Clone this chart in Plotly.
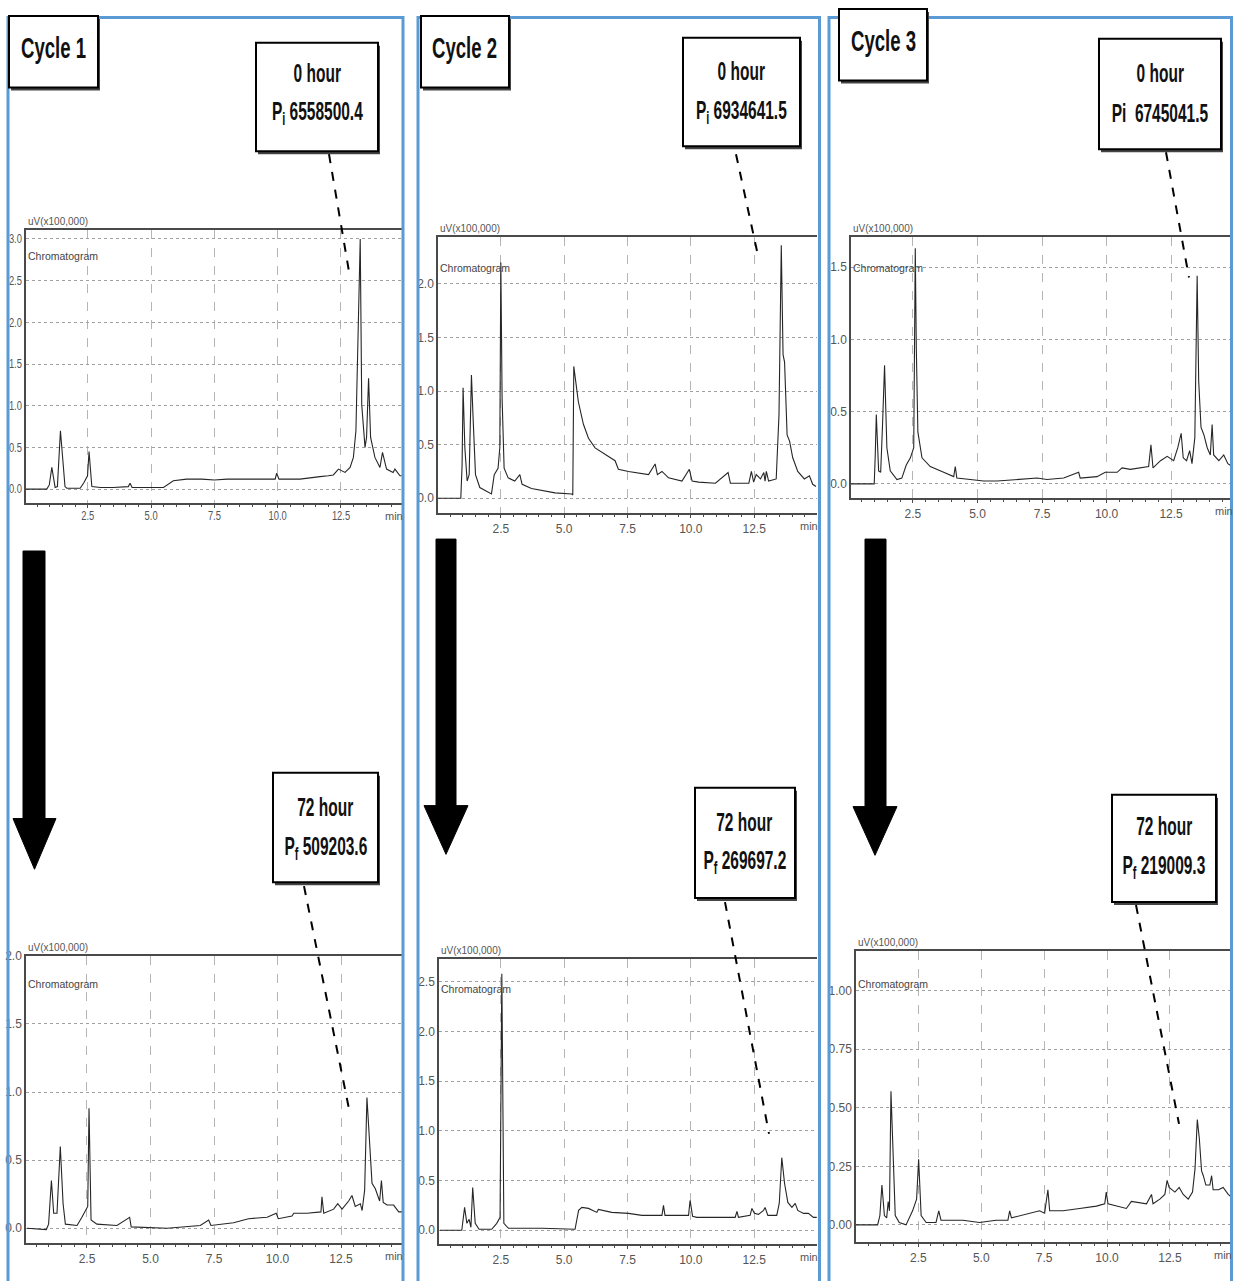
import plotly.graph_objects as go

W, H = 1239, 1281

# ---------------- data (time in min, signal in uV x100,000) ----------------
c1_0h_t = [0.06, 0.5, 0.88, 0.98, 1.08, 1.21, 1.3, 1.42, 1.6, 1.67, 2.2, 2.35, 2.49, 2.55, 2.66, 3.0, 3.5, 4.1, 4.17, 4.25,
           5.0, 5.49, 5.88, 6.4, 7.0, 7.5, 8.0, 8.9, 9.9, 9.96, 10.05, 10.88, 11.3, 11.67, 12.0, 12.2, 12.4, 12.66, 12.86,
           12.99, 13.09, 13.18, 13.26, 13.32, 13.45, 13.51, 13.59, 13.67, 13.84, 14.04, 14.14, 14.3, 14.56, 14.63, 14.83, 14.9]
c1_0h_v = [0.0, 0.0, 0.0, 0.05, 0.26, 0.02, 0.03, 0.70, 0.03, 0.01, 0.01, 0.08, 0.16, 0.45, 0.03, 0.02, 0.02, 0.03, 0.07, 0.02,
           0.02, 0.02, 0.10, 0.12, 0.12, 0.11, 0.12, 0.12, 0.12, 0.19, 0.12, 0.12, 0.14, 0.15, 0.16, 0.17, 0.24, 0.20, 0.26,
           0.38, 0.70, 2.0, 3.0, 1.01, 0.5, 0.62, 1.33, 0.62, 0.38, 0.26, 0.44, 0.24, 0.2, 0.24, 0.16, 0.16]

c2_0h_t = [0.02, 0.5, 0.92, 0.97, 1.01, 1.08, 1.17, 1.25, 1.34, 1.4, 1.5, 1.67, 1.93, 2.13, 2.24, 2.39, 2.46, 2.5, 2.55, 2.63,
           2.79, 3.05, 3.25, 3.34, 3.71, 4.18, 4.64, 5.3, 5.34, 5.38, 5.56, 5.76, 5.96, 6.22, 6.62, 7.01, 7.14, 7.54, 8.33, 8.59,
           8.68, 8.86, 9.12, 9.65, 9.94, 10.05, 10.31, 10.97, 11.47, 11.56, 12.29, 12.39, 12.48, 12.58, 12.75, 12.88, 12.93,
           12.98, 13.07, 13.37, 13.48, 13.57, 13.64, 13.7, 13.8, 13.9, 14.02, 14.22, 14.48, 14.68, 14.81, 14.94]
c2_0h_v = [0.0, 0.0, 0.0, 0.3, 1.03, 0.47, 0.16, 0.22, 1.15, 0.78, 0.22, 0.10, 0.07, 0.04, 0.22, 0.28, 0.47, 2.2, 0.93, 0.28,
           0.19, 0.16, 0.22, 0.13, 0.09, 0.07, 0.05, 0.04, 0.03, 1.23, 0.9, 0.69, 0.56, 0.47, 0.41, 0.35, 0.27, 0.25, 0.22, 0.32,
           0.22, 0.25, 0.19, 0.16, 0.27, 0.16, 0.15, 0.14, 0.24, 0.14, 0.14, 0.25, 0.15, 0.22, 0.18, 0.24, 0.16,
           0.25, 0.16, 0.18, 0.78, 2.36, 1.34, 1.27, 0.59, 0.53, 0.38, 0.25, 0.18, 0.21, 0.13, 0.11]

c3_0h_t = [0.1, 0.5, 1.0, 1.04, 1.08, 1.17, 1.25, 1.32, 1.4, 1.49, 1.62, 1.88, 2.07, 2.24, 2.4, 2.53, 2.59, 2.63, 2.69, 2.85,
           3.17, 3.69, 4.08, 4.14, 4.2, 4.72, 5.24, 5.76, 6.53, 7.31, 7.69, 8.34, 8.92, 8.98, 9.63, 9.95, 10.41, 10.6, 10.92,
           11.31, 11.63, 11.72, 11.8, 12.09, 12.35, 12.6, 12.76, 12.89, 12.97, 13.1, 13.22, 13.31, 13.42, 13.51, 13.57, 13.66,
           13.77, 13.9, 14.02, 14.09, 14.15, 14.35, 14.54, 14.7, 14.86]
c3_0h_v = [0.0, 0.0, 0.0, 0.2, 0.48, 0.09, 0.08, 0.4, 0.82, 0.25, 0.09, 0.03, 0.04, 0.13, 0.18, 0.25, 1.63, 0.94, 0.36, 0.18,
           0.12, 0.08, 0.05, 0.12, 0.04, 0.03, 0.02, 0.02, 0.03, 0.04, 0.03, 0.04, 0.08, 0.04, 0.05, 0.08, 0.08, 0.11, 0.10,
           0.11, 0.12, 0.27, 0.11, 0.16, 0.19, 0.16, 0.25, 0.35, 0.18, 0.16, 0.23, 0.14, 0.32, 1.44, 0.71, 0.39,
           0.34, 0.25, 0.20, 0.41, 0.20, 0.16, 0.20, 0.14, 0.12]

c1_72h_t = [0.14, 0.66, 0.9, 0.99, 1.1, 1.19, 1.32, 1.45, 1.56, 1.65, 2.11, 2.3, 2.53, 2.58, 2.66, 2.89, 3.68, 4.18, 4.24, 5.65,
            6.96, 7.29, 7.38, 8.27, 8.86, 9.59, 9.95, 10.03, 10.57, 10.64, 11.16, 11.71, 11.75, 11.82, 12.21, 12.37, 12.54,
            12.8, 12.93, 13.06, 13.26, 13.33, 13.43, 13.52, 13.62, 13.72, 13.85, 14.02, 14.09, 14.16, 14.31, 14.57, 14.77, 14.9]
c1_72h_v = [0.0, -0.01, -0.01, 0.03, 0.35, 0.11, 0.11, 0.6, 0.18, 0.03, 0.02, 0.08, 0.16, 0.88, 0.06, 0.03, 0.02, 0.08, 0.01, 0.0,
            0.02, 0.06, 0.02, 0.04, 0.07, 0.08, 0.11, 0.07, 0.09, 0.11, 0.11, 0.12, 0.23, 0.11, 0.14, 0.18, 0.14,
            0.2, 0.24, 0.16, 0.18, 0.13, 0.28, 0.96, 0.65, 0.33, 0.29, 0.2, 0.35, 0.19, 0.17, 0.17, 0.12, 0.12]

c2_72h_t = [0.1, 0.96, 1.07, 1.16, 1.25, 1.32, 1.39, 1.49, 1.64, 2.14, 2.34, 2.47, 2.54, 2.62, 2.8, 4.12, 5.43, 5.57, 5.7, 5.96,
            6.29, 6.35, 6.88, 7.54, 8.07, 8.86, 8.92, 8.98, 9.91, 9.97, 10.07, 10.24, 10.96, 11.75, 11.82, 11.88, 12.34, 12.41,
            12.51, 12.67, 12.87, 12.93, 13.04, 13.39, 13.49, 13.59, 13.7, 13.83, 13.99, 14.12, 14.22, 14.45, 14.64, 14.84, 14.97]
c2_72h_v = [0.0, 0.0, 0.23, 0.07, 0.11, 0.03, 0.43, 0.07, 0.01, 0.01, 0.07, 0.13, 2.58, 0.07, 0.02, 0.02, 0.01, 0.2, 0.23, 0.22,
            0.18, 0.21, 0.18, 0.17, 0.15, 0.15, 0.25, 0.15, 0.15, 0.3, 0.14, 0.13, 0.13, 0.13, 0.19, 0.13, 0.15, 0.22,
            0.17, 0.16, 0.2, 0.23, 0.15, 0.15, 0.27, 0.73, 0.47, 0.28, 0.23, 0.27, 0.2, 0.17, 0.17, 0.13, 0.13]

c3_72h_t = [0.02, 0.88, 0.97, 1.05, 1.15, 1.24, 1.3, 1.35, 1.41, 1.48, 1.58, 1.74, 2.01, 2.27, 2.43, 2.51, 2.61, 2.81, 3.2, 3.31,
            3.4, 3.74, 4.27, 4.93, 5.59, 6.06, 6.13, 6.2, 6.92, 7.32, 7.52, 7.65, 7.72, 8.25, 8.91, 9.58, 9.91, 9.97, 10.04,
            10.77, 10.97, 11.57, 11.77, 11.83, 12.1, 12.3, 12.39, 12.47, 12.7, 12.87, 13.03, 13.23, 13.4, 13.5, 13.59, 13.67,
            13.76, 13.83, 13.93, 14.09, 14.16, 14.22, 14.43, 14.62, 14.82, 14.93]
c3_72h_v = [0.0, 0.0, 0.04, 0.17, 0.04, 0.03, 0.1, 0.06, 0.57, 0.31, 0.04, 0.01, 0.0, 0.06, 0.11, 0.28, 0.04, 0.01, 0.01, 0.06,
            0.02, 0.02, 0.02, 0.01, 0.02, 0.02, 0.06, 0.03, 0.05, 0.06, 0.05, 0.15, 0.06, 0.06, 0.07, 0.08, 0.09, 0.14, 0.09,
            0.07, 0.1, 0.09, 0.13, 0.09, 0.11, 0.13, 0.19, 0.16, 0.14, 0.16, 0.13, 0.11, 0.14, 0.24, 0.45, 0.37,
            0.23, 0.21, 0.17, 0.17, 0.21, 0.15, 0.15, 0.16, 0.13, 0.12]

cycle_labels = ["Cycle 1", "Cycle 2", "Cycle 3"]
start_hours = ["0 hour", "0 hour", "0 hour"]
start_areas = ["P<sub>i</sub> 6558500.4", "P<sub>i</sub> 6934641.5", "Pi  6745041.5"]
end_hours = ["72 hour", "72 hour", "72 hour"]
end_areas = ["P<sub>f</sub> 509203.6", "P<sub>f</sub> 269697.2", "P<sub>f</sub> 219009.3"]
y_ticks_top = [[0, 0.5, 1.0, 1.5, 2.0, 2.5, 3.0], [0, 0.5, 1.0, 1.5, 2.0], [0, 0.5, 1.0, 1.5]]
y_ticks_bot = [[0, 0.5, 1.0, 1.5, 2.0], [0, 0.5, 1.0, 1.5, 2.0, 2.5], [0, 0.25, 0.5, 0.75, 1.0]]

# ---------------- helpers ----------------
def px(x):
    return x / W

def py(y):
    return 1 - y / H

FONT = "Liberation Sans, Arial, sans-serif"
LINE_COL = "#262626"

panels = [
    dict(t=c1_0h_t, v=c1_0h_v, xd=(26, 402), yd=(224, 499), xr=[0.06, 14.91], yr=[-0.17, 3.11], yt=y_ticks_top[0], fmt=".1f", chrom=26),
    dict(t=c2_0h_t, v=c2_0h_v, xd=(438, 817), yd=(231, 509), xr=[0.02, 14.98], yr=[-0.14, 2.44], yt=y_ticks_top[1], fmt=".1f", chrom=31),
    dict(t=c3_0h_t, v=c3_0h_v, xd=(851, 1232), yd=(231, 494), xr=[0.1, 14.86], yr=[-0.10, 1.71], yt=y_ticks_top[2], fmt=".1f", chrom=31),
    dict(t=c1_72h_t, v=c1_72h_v, xd=(26, 402), yd=(954, 1243), xr=[0.1, 14.9], yr=[-0.11, 2.0], yt=y_ticks_bot[0], fmt=".1f", chrom=28),
    dict(t=c2_72h_t, v=c2_72h_v, xd=(439, 817), yd=(957, 1244), xr=[0.06, 14.98], yr=[-0.14, 2.73], yt=y_ticks_bot[1], fmt=".1f", chrom=30),
    dict(t=c3_72h_t, v=c3_72h_v, xd=(856, 1231), yd=(949, 1242), xr=[0.02, 14.93], yr=[-0.074, 1.17], yt=y_ticks_bot[2], fmt=".2f", chrom=33),
]

fig = go.Figure()
layout = dict(
    width=W, height=H, margin=dict(l=0, r=0, t=0, b=0),
    paper_bgcolor="white", plot_bgcolor="white", showlegend=False,
)
annotations = []
shapes = []

for i, p in enumerate(panels, start=1):
    sx = "" if i == 1 else str(i)
    fig.add_trace(go.Scatter(x=p["t"], y=p["v"], mode="lines",
                             line=dict(color=LINE_COL, width=1.1),
                             xaxis="x" + sx, yaxis="y" + sx, hoverinfo="skip"))
    layout["xaxis" + sx] = dict(
        domain=[px(p["xd"][0]), px(p["xd"][1])], range=p["xr"], anchor="y" + sx,
        tickmode="linear", tick0=2.5, dtick=2.5, tickformat=".1f",
        showgrid=True, gridcolor="#b5b5b5", griddash="dash", gridwidth=1,
        showline=True, linecolor="#4a4a4a", linewidth=2, mirror=True,
        ticks="outside", ticklen=3, tickcolor="#4a4a4a",
        minor=dict(dtick=0.5, tick0=0, ticks="outside", ticklen=2, tickcolor="#4a4a4a", showgrid=False),
        tickfont=dict(family=FONT, size=12, color="#555555"), zeroline=False, fixedrange=True,
    )
    layout["yaxis" + sx] = dict(
        domain=[py(p["yd"][1]), py(p["yd"][0])], range=p["yr"], anchor="x" + sx,
        tickmode="array", tickvals=p["yt"], tickformat=p["fmt"],
        showgrid=True, gridcolor="#a0a0a0", griddash="dot", gridwidth=1,
        showline=True, linecolor="#4a4a4a", linewidth=1.5, ticks="",
        ticklabelstandoff=0,
        tickfont=dict(family=FONT, size=12, color="#555555"), zeroline=False, fixedrange=True,
    )
    annotations.append(dict(text="uV(x100,000)", x=px(p["xd"][0]), y=py(p["yd"][0] - 1), xref="paper", yref="paper",
                            xanchor="left", yanchor="bottom", showarrow=False,
                            font=dict(family=FONT, size=10, color="#555555")))
    annotations.append(dict(text="Chromatogram", x=px(p["xd"][0]), y=py(p["yd"][0] + p["chrom"]), xref="paper", yref="paper",
                            xanchor="left", yanchor="middle", showarrow=False,
                            font=dict(family=FONT, size=10.5, color="#444444")))
    annotations.append(dict(text="min", x=px(p["xd"][1] + 3), y=py(p["yd"][1] + 13), xref="paper", yref="paper",
                            xanchor="right", yanchor="middle", showarrow=False,
                            font=dict(family=FONT, size=11, color="#555555")))

# blue column frames
for (l, r) in [(8, 403), (418, 819.5), (829, 1231.5)]:
    shapes.append(dict(type="rect", xref="paper", yref="paper", x0=px(l), x1=px(r), y0=py(1300), y1=py(10.5),
                       line=dict(color="#5b9bd5", width=3), fillcolor="rgba(0,0,0,0)", layer="above"))

def boxed(x0, y0, x1, y1):
    shapes.append(dict(type="rect", xref="paper", yref="paper", x0=px(x0 + 2), x1=px(x1 + 2), y0=py(y1 + 3), y1=py(y0 + 3),
                       line=dict(width=0), fillcolor="#444444", layer="above"))
    shapes.append(dict(type="rect", xref="paper", yref="paper", x0=px(x0), x1=px(x1), y0=py(y1), y1=py(y0),
                       line=dict(color="black", width=2), fillcolor="white", layer="above"))

def text(t, x, y, size):
    annotations.append(dict(text="<b>" + t + "</b>", x=px(x), y=py(y), xref="paper", yref="paper", xanchor="center", yanchor="middle",
                            showarrow=False, font=dict(family=FONT, size=size, color="#111111")))

cyc_boxes = [(9, 9, 98, 81), (421, 9, 509, 81), (839, 2, 927, 74)]
for lab, (x0, y0, x1, y1) in zip(cycle_labels, cyc_boxes):
    boxed(x0, y0, x1, y1)
    text(lab, (x0 + x1) / 2, (y0 + y1) / 2 - 4, 30)

top_boxes = [(256, 36, 378, 145), (683, 31, 800, 140), (1099, 32, 1221, 143)]
top_line1 = [66, 64, 66]
top_line2 = [107, 106, 107]
for k, (x0, y0, x1, y1) in enumerate(top_boxes):
    boxed(x0, y0, x1, y1)
    text(start_hours[k], (x0 + x1) / 2, top_line1[k], 25)
    text(start_areas[k], (x0 + x1) / 2, top_line2[k], 25)

bot_boxes = [(273, 770, 378, 880), (695, 785, 795, 896), (1112, 792, 1216, 900)]
bot_line1 = [804, 819, 824]
bot_line2 = [846, 860, 865]
for k, (x0, y0, x1, y1) in enumerate(bot_boxes):
    boxed(x0, y0, x1, y1)
    text(end_hours[k], (x0 + x1) / 2, bot_line1[k], 25)
    text(end_areas[k], (x0 + x1) / 2, bot_line2[k], 25)

leaders = [((329, 148), (350, 272)), ((736, 148), (758, 250)), ((1166, 146), (1189, 272)),
           ((304, 884), (349, 1108)), ((725, 900), (769, 1133)), ((1136, 903), (1179, 1123))]
for (a, b) in leaders:
    shapes.append(dict(type="line", xref="paper", yref="paper", x0=px(a[0]), y0=py(a[1]), x1=px(b[0]), y1=py(b[1]),
                       line=dict(color="black", width=2, dash="dash"), layer="above"))

arrows = [(23, 45, 13, 56, 547, 816, 867), (436, 456, 424, 468, 535, 803, 852), (865, 886, 853, 897, 535, 804, 853)]
for (s0, s1, h0, h1, ytop, yh, ytip) in arrows:
    xm = (h0 + h1) / 2
    path = (f"M {px(s0)},{py(ytop)} L {px(s1)},{py(ytop)} L {px(s1)},{py(yh)} L {px(h1)},{py(yh)} "
            f"L {px(xm)},{py(ytip)} L {px(h0)},{py(yh)} L {px(s0)},{py(yh)} Z")
    shapes.append(dict(type="path", xref="paper", yref="paper", path=path, fillcolor="black",
                       line=dict(color="black", width=1), layer="above"))

layout["annotations"] = annotations
layout["shapes"] = shapes
fig.update_layout(**layout)

# condense texts horizontally (the reference uses a narrow typeface); keeps any transform already set
condense_js = """
var gd = document.getElementById('{plot_id}');
function squeeze(t, s, anchor, dy) {
  var b = t.getBBox();
  var cx = anchor === 'right' ? b.x + b.width : b.x + b.width / 2;
  var cy = b.y + b.height / 2;
  var old = t.getAttribute('transform') || '';
  t.setAttribute('transform', old + ' translate(' + cx + ',' + (cy + dy) + ') scale(' + s + ',1) translate(' + (-cx) + ',' + (-cy) + ')');
}
gd.querySelectorAll('g.annotation text.annotation-text').forEach(function(t){
  var fs = parseFloat(t.style.fontSize || '0');
  if (fs >= 20) { squeeze(t, 0.62, 'center', 0); }
});
gd.querySelectorAll('g.xtick text').forEach(function(t){ squeeze(t, 0.78, 'center', -3); });
gd.querySelectorAll('g.ytick text').forEach(function(t){ squeeze(t, 0.78, 'right', 0); });
"""
fig.write_html("out.html", post_script=condense_js)
